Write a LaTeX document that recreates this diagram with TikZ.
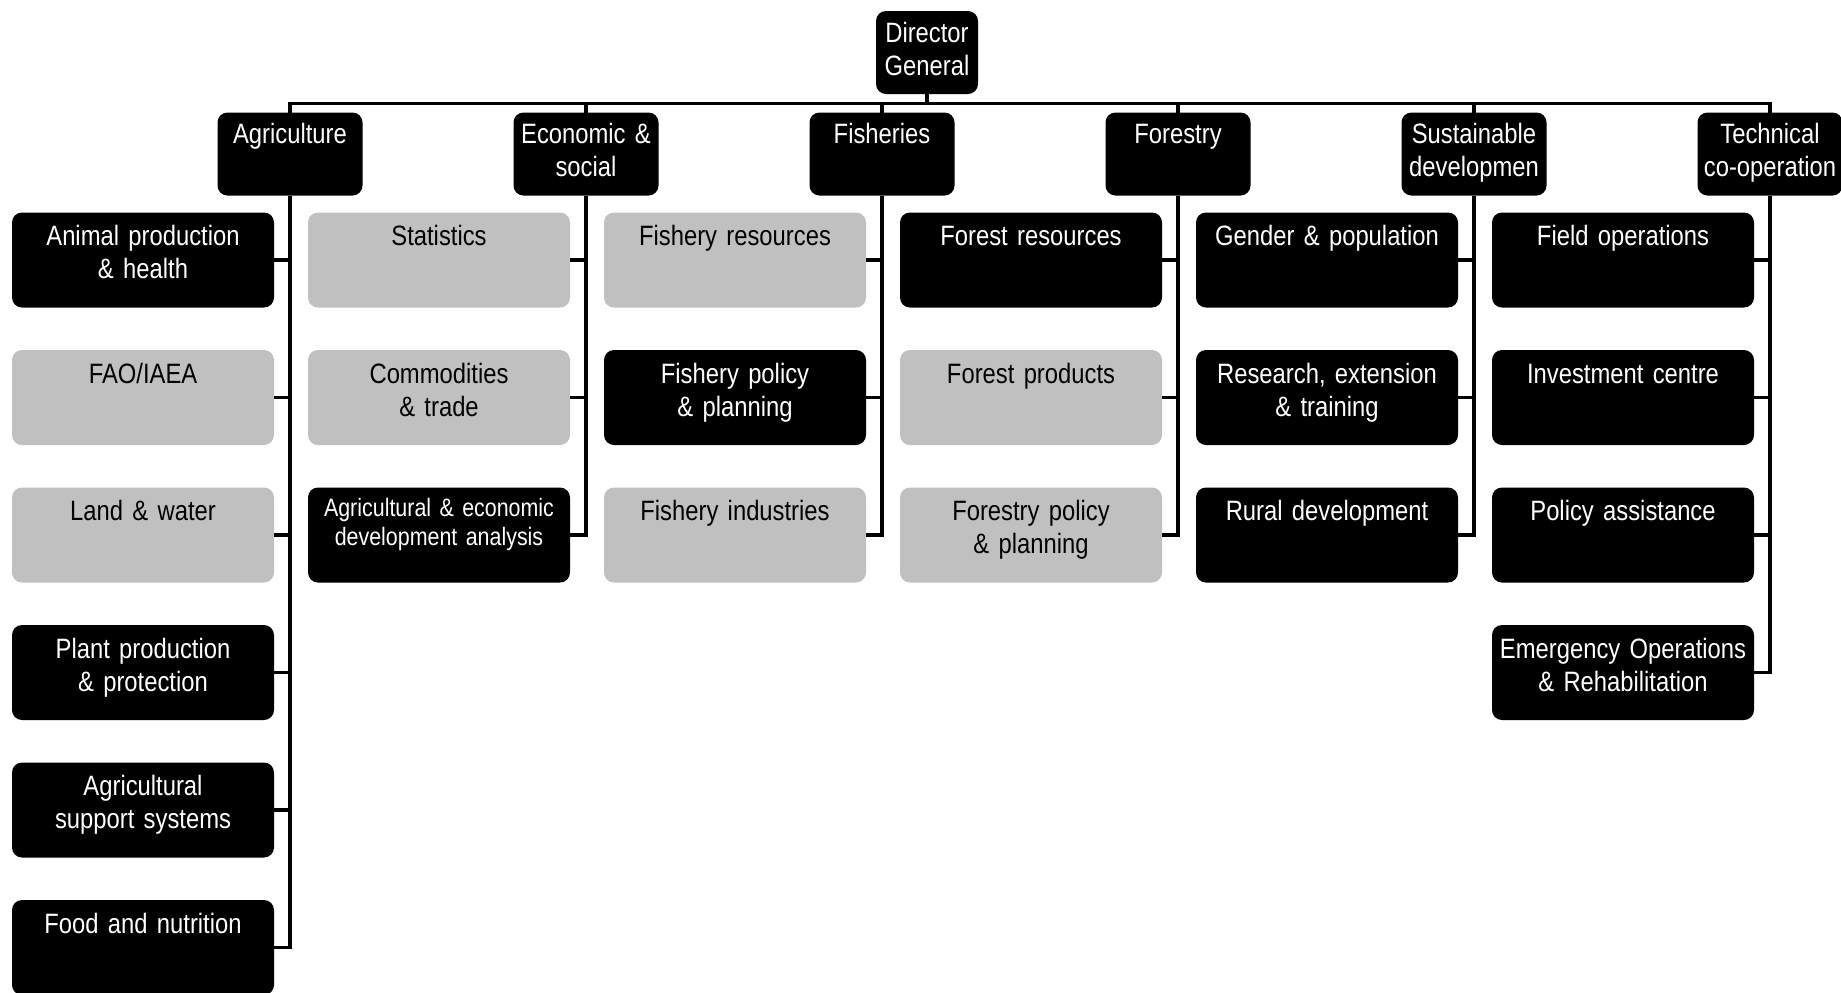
\documentclass[tikz,border=0pt]{standalone}
\usepackage{fontspec}
\setmainfont{Liberation Sans}[FakeStretch=0.85, WordSpace=0.85]
\usetikzlibrary{positioning, calc}
\definecolor{boxgrey}{RGB}{192,192,192}

\begin{document}
\begin{tikzpicture}[
            x = 0.5pt, y = -0.5pt,
            node distance = 21.25pt and 75.5pt,
            cell/.style  = {rectangle, rounded corners=5pt, align=center, outer sep=0pt,
                            font=\fontsize{14}{16.5}\selectfont,
                            inner xsep=2pt, inner ysep=3pt, text width=127pt,
                            text height=13.5pt, text depth=28pt},
            dark/.style  = {cell, fill=black, text=white},
            light/.style = {cell, fill=boxgrey, text=black},
            head/.style  = {dark, text width=71.5pt, inner xsep=0.5pt,
                            text height=12.5pt, text depth=23pt},
            link/.style  = {draw=black, line width=1.7pt}
                                 ]
            \useasboundingbox (0,0) rectangle (1841,992);
            \node[head, text width=50pt] (DG) at (927,52.5) {Director\\General};
            \node[head] (AGR) at (290,154) {Agriculture};
            \node[head] (ECO) [right = of AGR] {Economic \&\\social};
            \node[head] (FIS) [right = of ECO] {Fisheries};
            \node[head] (FOR) [right = of FIS] {Forestry};
            \node[head] (SUS) [right = of FOR] {Sustainable\\developmen};
            \node[head] (TEC) [right = of SUS] {Technical\\co-operation};
            % agriculture
            \node[dark]  (AGR1) [below left = 8.5pt and 8pt of AGR.south] {Animal production\\\& health};
            \node[light] (AGR2) [below = of AGR1] {FAO/IAEA};
            \node[light] (AGR3) [below = of AGR2] {Land \& water};
            \node[dark]  (AGR4) [below = of AGR3] {Plant production\\\& protection};
            \node[dark]  (AGR5) [below = of AGR4] {Agricultural\\support systems};
            \node[dark]  (AGR6) [below = of AGR5] {Food and nutrition};
            % economic & social
            \node[light] (ECO1) [below left = 8.5pt and 8pt of ECO.south] {Statistics};
            \node[light] (ECO2) [below = of ECO1] {Commodities\\\& trade};
            \node[dark, font=\fontsize{12.6}{14.5}\selectfont, text height=11.5pt, text depth=30pt]
                         (ECO3) [below = of ECO2] {Agricultural \& economic\\development analysis};
            % fisheries
            \node[light] (FIS1) [below left = 8.5pt and 8pt of FIS.south] {Fishery resources};
            \node[dark]  (FIS2) [below = of FIS1] {Fishery policy\\\& planning};
            \node[light] (FIS3) [below = of FIS2] {Fishery industries};
            % forestry
            \node[dark]  (FOR1) [below left = 8.5pt and 8pt of FOR.south] {Forest resources};
            \node[light] (FOR2) [below = of FOR1] {Forest products};
            \node[light] (FOR3) [below = of FOR2] {Forestry policy\\\& planning};
            % sustainable development
            \node[dark]  (SUS1) [below left = 8.5pt and 8pt of SUS.south] {Gender \& population};
            \node[dark]  (SUS2) [below = of SUS1] {Research, extension\\\& training};
            \node[dark]  (SUS3) [below = of SUS2] {Rural development};
            % technical co-operation
            \node[dark]  (TEC1) [below left = 8.5pt and 8pt of TEC.south] {Field operations};
            \node[dark]  (TEC2) [below = of TEC1] {Investment centre};
            \node[dark]  (TEC3) [below = of TEC2] {Policy assistance};
            \node[dark]  (TEC4) [below = of TEC3] {Emergency Operations\\\& Rehabilitation};
            %
            \coordinate (BUS) at ($(DG.south)!0.5!(DG.south |- AGR.north)$);
            \draw [link]  (DG.south) -- (BUS)
                          (AGR.north) |- (BUS) -| (TEC.north)
                          (ECO.north) -- (ECO.north |- BUS)
                          (FIS.north) -- (FIS.north |- BUS)
                          (FOR.north) -- (FOR.north |- BUS)
                          (SUS.north) -- (SUS.north |- BUS);
            \draw [link]  (AGR) |- (AGR1)  (AGR) |- (AGR2)  (AGR) |- (AGR3)
                          (AGR) |- (AGR4)  (AGR) |- (AGR5)  (AGR) |- (AGR6)
                          (ECO) |- (ECO1)  (ECO) |- (ECO2)  (ECO) |- (ECO3)
                          (FIS) |- (FIS1)  (FIS) |- (FIS2)  (FIS) |- (FIS3)
                          (FOR) |- (FOR1)  (FOR) |- (FOR2)  (FOR) |- (FOR3)
                          (SUS) |- (SUS1)  (SUS) |- (SUS2)  (SUS) |- (SUS3)
                          (TEC) |- (TEC1)  (TEC) |- (TEC2)  (TEC) |- (TEC3)
                          (TEC) |- (TEC4);
    \end{tikzpicture}
\end{document}
